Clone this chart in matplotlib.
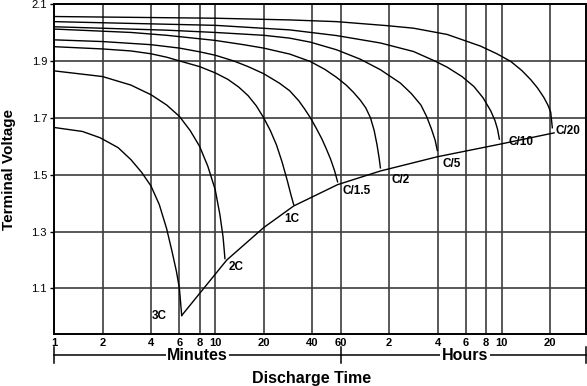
import matplotlib
matplotlib.use("Agg")
import matplotlib.pyplot as plt
from matplotlib.ticker import FixedLocator, NullLocator

plt.rcParams["font.family"] = ["Liberation Sans", "DejaVu Sans"]

# discharge curves, time in minutes, terminal voltage per cell
t_3c = [1, 1.5, 1.93, 2.5, 3, 3.5, 4, 4.5, 5.0, 5.4, 5.75, 6.0, 6.2]
v_3c = [1.666, 1.652, 1.630, 1.595, 1.553, 1.508, 1.460, 1.395, 1.310, 1.230, 1.160, 1.100, 1.005]

t_2c = [1, 2, 3, 4, 5, 6, 7, 8, 9, 10, 10.7, 11.2, 11.5]
v_2c = [1.865, 1.845, 1.815, 1.781, 1.745, 1.705, 1.655, 1.600, 1.530, 1.448, 1.360, 1.280, 1.205]

t_1c = [1, 2, 3, 4, 5, 6, 8, 10, 12, 14, 16, 18, 20, 22, 24, 26, 28, 29.5, 30.7]
v_1c = [1.950, 1.942, 1.935, 1.925, 1.913, 1.900, 1.880, 1.858, 1.835, 1.808, 1.778, 1.742, 1.700,
        1.655, 1.605, 1.545, 1.480, 1.430, 1.395]

t_c15 = [1, 2, 4, 6, 8, 10, 13, 16, 20, 25, 29, 33, 36, 39, 42.7, 46, 49, 52, 55, 57.5]
v_c15 = [1.974, 1.968, 1.957, 1.945, 1.932, 1.920, 1.900, 1.880, 1.855, 1.822, 1.795, 1.760,
         1.730, 1.700, 1.660, 1.625, 1.590, 1.555, 1.515, 1.475]

t_c2 = [1, 3, 5, 10, 15, 20, 29, 38.9, 48, 56.7, 65, 72, 79.5, 86, 92, 97, 101, 104, 106]
v_c2 = [2.012, 2.000, 1.990, 1.972, 1.957, 1.945, 1.924, 1.898, 1.870, 1.842, 1.815, 1.790,
        1.762, 1.735, 1.700, 1.655, 1.605, 1.560, 1.524]

t_c5 = [1, 5, 10, 20, 29, 38.9, 56.7, 79.5, 106, 141, 165, 189, 205, 220, 232, 239]
v_c5 = [2.020, 2.008, 2.000, 1.990, 1.980, 1.966, 1.939, 1.906, 1.869, 1.822, 1.785, 1.745,
        1.705, 1.660, 1.620, 1.585]

t_c10 = [1, 10, 29, 56.7, 106, 170, 230, 275, 340, 403, 460, 512, 545, 565, 580]
v_c10 = [2.038, 2.025, 2.009, 1.989, 1.963, 1.933, 1.900, 1.878, 1.845, 1.810, 1.770, 1.725,
         1.690, 1.660, 1.625]

t_c20 = [1, 10, 29, 56.7, 116, 170, 275, 443, 560, 683, 800, 908, 1000, 1094, 1160, 1208, 1236]
v_c20 = [2.056, 2.050, 2.044, 2.038, 2.024, 2.015, 1.993, 1.952, 1.925, 1.898, 1.866, 1.834,
         1.805, 1.772, 1.745, 1.720, 1.665]

# end-of-discharge line
end_t = [6.2, 11.8, 20, 30.7, 57.5, 106, 239, 582, 1268]
end_v = [1.005, 1.200, 1.314, 1.390, 1.465, 1.513, 1.563, 1.607, 1.647]

rate_labels = ["3C", "2C", "1C", "C/1.5", "C/2", "C/5", "C/10", "C/20"]
label_t = [4.5, 13.5, 30, 76, 141, 294, 790, 1550]
label_v = [1.004, 1.175, 1.343, 1.441, 1.483, 1.537, 1.615, 1.653]

x_ticks = [1, 2, 4, 6, 8, 10, 20, 40, 60, 120, 240, 360, 480, 600, 1200]
x_ticklabels = ["1", "2", "4", "6", "8", "10", "20", "40", "60",
                "2", "4", "6", "8", "10", "20"]
y_ticks = [1.1, 1.3, 1.5, 1.7, 1.9, 2.1]

curves = [(t_3c, v_3c), (t_2c, v_2c), (t_1c, v_1c), (t_c15, v_c15),
          (t_c2, v_c2), (t_c5, v_c5), (t_c10, v_c10), (t_c20, v_c20)]

fig = plt.figure(figsize=(5.87, 3.86), dpi=100)
ax = fig.add_axes([54 / 587, 1 - 334 / 386, 532 / 587, 330 / 386])
ax.set_xscale("log")
ax.set_xlim(1, 2000)
ax.set_ylim(0.94, 2.1)

ax.xaxis.set_major_locator(FixedLocator(x_ticks))
ax.xaxis.set_minor_locator(NullLocator())
ax.set_xticklabels(x_ticklabels, fontsize=8, fontweight="bold")
ax.set_yticks(y_ticks)
ax.set_yticklabels([f"{v:.1f}" for v in y_ticks], fontsize=8)
ax.tick_params(axis="x", length=0, pad=3)
ax.tick_params(axis="y", length=3, width=1, pad=2)

ax.grid(True, color="#3c3c3c", linewidth=1.2)
ax.set_axisbelow(True)
for s in ax.spines.values():
    s.set_linewidth(1.4)

for t, v in curves:
    ax.plot(t, v, color="black", linewidth=1.0)
ax.plot(end_t, end_v, color="black", linewidth=1.0)

for lab, t, v in zip(rate_labels, label_t, label_v):
    ax.text(t, v, lab, fontsize=8.5, fontweight="bold", ha="center", va="center")

# Minutes / Hours bracket under the axis
tr = ax.get_xaxis_transform()
yb = -0.064
ax.plot([1, 2000], [yb, yb], color="black", lw=1.1, transform=tr, clip_on=False)
for xe in [1, 60, 2000]:
    ax.plot([xe, xe], [yb + 0.025, yb - 0.025], color="black", lw=1.1,
            transform=tr, clip_on=False)
ax.text(7.75, yb, "Minutes", transform=tr, ha="center", va="center",
        fontsize=11.5, fontweight="bold",
        bbox=dict(facecolor="white", edgecolor="none", pad=1))
ax.text(355, yb, "Hours", transform=tr, ha="center", va="center",
        fontsize=11.5, fontweight="bold",
        bbox=dict(facecolor="white", edgecolor="none", pad=1))

fig.text(312 / 587, 1 - 378 / 386, "Discharge Time", ha="center", va="center",
         fontsize=11.5, fontweight="bold")
fig.text(9 / 587, 1 - 169 / 386, "Terminal Voltage", ha="center", va="center",
         rotation=90, fontsize=11, fontweight="bold")

fig.savefig("out.png", dpi=100)
